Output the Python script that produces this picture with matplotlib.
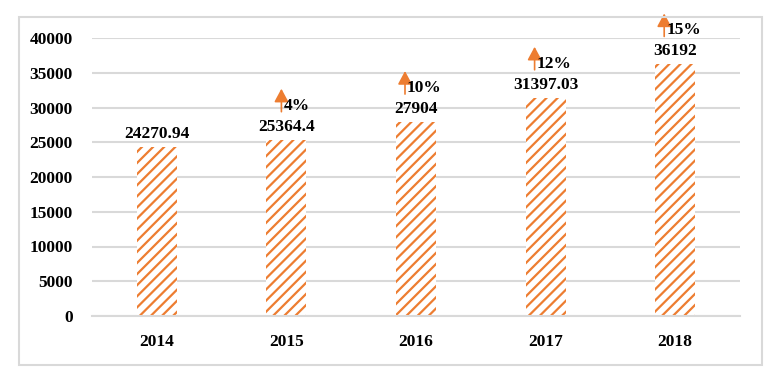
import matplotlib.pyplot as plt
from matplotlib.patches import Rectangle
from matplotlib.transforms import offset_copy

years = ['2014', '2015', '2016', '2017', '2018']
values = [24270.94, 25364.4, 27904, 31397.03, 36192]
value_labels = ['24270.94', '25364.4', '27904', '31397.03', '36192']
growth = [None, '4%', '10%', '12%', '15%']

orange = '#ED7D31'
grid_gray = '#D9D9D9'

plt.rcParams['font.family'] = ['Liberation Serif', 'DejaVu Serif']
plt.rcParams['font.weight'] = 'bold'
plt.rcParams['hatch.linewidth'] = 1.6

fig = plt.figure(figsize=(7.77, 3.79), dpi=100)
ax = fig.add_axes([92 / 777, 1 - 316 / 379, 648 / 777, 278 / 379])

x = list(range(len(years)))
ax.bar(x, values, width=0.31, facecolor='white', edgecolor=orange,
       linewidth=0, hatch='///', zorder=2)

ax.set_xlim(-0.5, len(years) - 0.5)
ax.set_ylim(0, 40000)
ax.set_yticks(range(0, 40001, 5000))
ax.set_xticks(x)
ax.set_xticklabels(years, fontsize=12.5, fontweight='bold')
ax.tick_params(axis='y', length=0, pad=14, labelsize=12.5)
ax.tick_params(axis='x', length=0, pad=13, labelsize=12.5)
ax.yaxis.grid(True, color=grid_gray, linewidth=1.5, zorder=0)
ax.set_axisbelow(True)
for s in ['top', 'right', 'left']:
    ax.spines[s].set_visible(False)
ax.spines['bottom'].set_color(grid_gray)
ax.spines['bottom'].set_linewidth(1.5)

for i, v in enumerate(values):
    ax.annotate(value_labels[i], (i, v), xytext=(0, 9.5), textcoords='offset points',
                ha='center', va='center', fontsize=12.5, fontweight='bold')
    if growth[i] is None:
        continue
    dx = -5 if i == 1 else -11
    base = offset_copy(ax.transData, fig, x=dx, y=28, units='dots')
    tip = offset_copy(ax.transData, fig, x=dx, y=51, units='dots')
    ax.annotate('', xy=(i, v), xycoords=tip, xytext=(i, v), textcoords=base,
                arrowprops=dict(arrowstyle='-|>,head_length=8,head_width=4.3',
                                mutation_scale=1, color=orange, lw=1.2,
                                shrinkA=0, shrinkB=0),
                annotation_clip=False)
    lab = offset_copy(ax.transData, fig, x=dx + 2, y=34, units='dots')
    ax.text(i, v, growth[i], transform=lab, ha='left', va='center',
            fontsize=12.5, fontweight='bold', clip_on=False)

fig.patches.append(Rectangle((19 / 777, 1 - 365 / 379), 743 / 777, 348 / 379,
                             transform=fig.transFigure, fill=False,
                             edgecolor=grid_gray, linewidth=1.5))

fig.savefig('out.png', dpi=100)
